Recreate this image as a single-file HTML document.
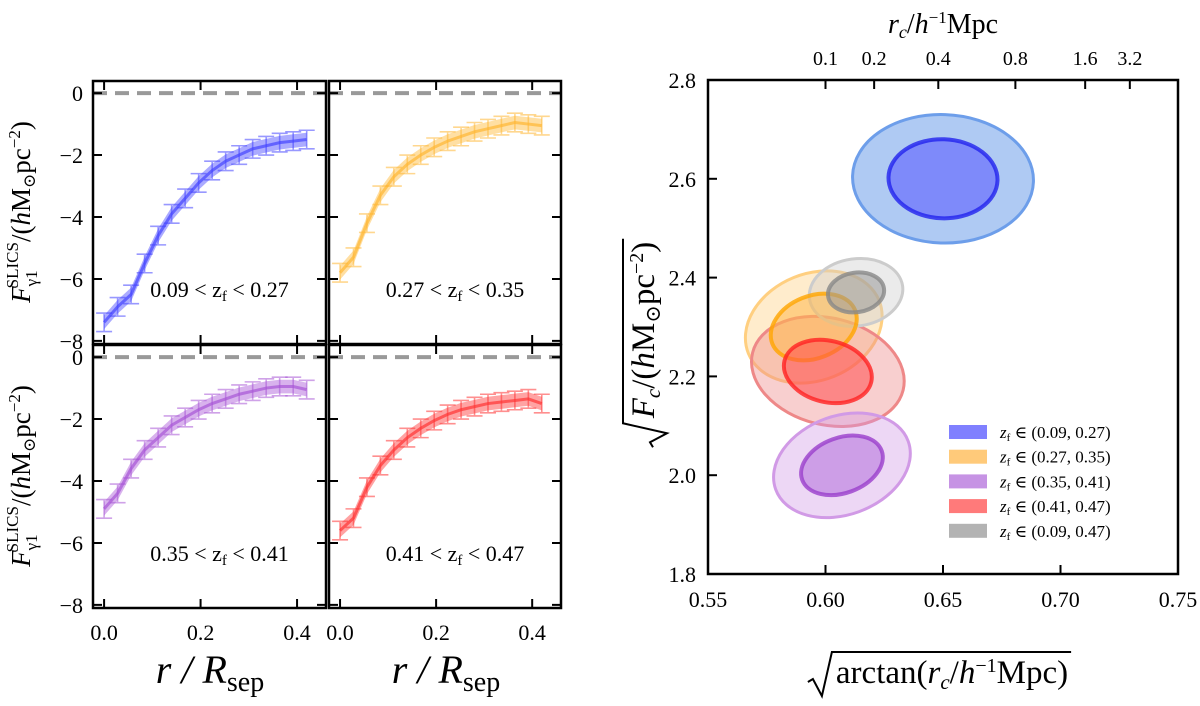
<!DOCTYPE html>
<html><head><meta charset="utf-8"><style>
body{margin:0;background:#fff;}
svg text{font-family:"Liberation Serif","DejaVu Serif",serif;fill:#000;}
</style></head><body>
<svg id="fig" width="1200" height="701" viewBox="0 0 1200 701" xmlns="http://www.w3.org/2000/svg"></svg>
<script>
// ---- Left panels data ----
const rValues=[0,0.028,0.056,0.084,0.112,0.14,0.168,0.196,0.224,0.252,0.28,0.308,0.336,0.364,0.392,0.42];
const blueProfile=[-7.4,-6.9,-6.5,-5.5,-4.6,-3.9,-3.4,-2.9,-2.5,-2.2,-2.0,-1.8,-1.7,-1.6,-1.55,-1.5];
const orangeProfile=[-5.8,-5.3,-4.2,-3.3,-2.7,-2.3,-2.0,-1.75,-1.55,-1.4,-1.25,-1.15,-1.05,-0.95,-1.0,-1.05];
const purpleProfile=[-4.9,-4.4,-3.6,-3.0,-2.6,-2.2,-1.95,-1.7,-1.5,-1.35,-1.2,-1.1,-1.0,-0.95,-0.95,-1.05];
const redProfile=[-5.6,-5.2,-4.2,-3.5,-3.0,-2.6,-2.3,-2.05,-1.85,-1.7,-1.6,-1.5,-1.45,-1.4,-1.35,-1.5];
const panelLabels=["0.09 < z","0.27 < z","0.35 < z","0.41 < z"];
const panelUpper=["0.27","0.35","0.41","0.47"];
const leftYTicks=[0,-2,-4,-6,-8];
const leftXTicks=[0.0,0.2,0.4];
// ---- Right panel data ----
const ellCx=[0.650,0.595,0.607,0.601,0.613];
const ellCy=[2.60,2.30,2.02,2.21,2.37];
const ellInRx=[0.0232,0.019,0.018,0.019,0.012];
const ellInRy=[0.080,0.063,0.056,0.062,0.040];
const ellOutRx=[0.0385,0.030,0.030,0.033,0.020];
const ellOutRy=[0.130,0.108,0.100,0.108,0.068];
const ellAngle=[2,-22,-20,14,-8];
const ellNames=["(0.09, 0.27)","(0.27, 0.35)","(0.35, 0.41)","(0.41, 0.47)","(0.09, 0.47)"];
const rightXTicks=[0.55,0.60,0.65,0.70,0.75];
const rightYTicks=[1.8,2.0,2.2,2.4,2.6,2.8];
const topTickLabels=["0.1","0.2","0.4","0.8","1.6","3.2"];
const topTickPos=[0.600,0.6207,0.648,0.6808,0.7105,0.7295];

const NS="http://www.w3.org/2000/svg";
const svg=document.getElementById('fig');
function mk(tag,attrs,parent){const e=document.createElementNS(NS,tag);for(const k in attrs)e.setAttribute(k,attrs[k]);(parent||svg).appendChild(e);return e;}

const colors=["#4444ff","#ffb733","#a855d6","#ff3333"];
const profiles=[blueProfile,orangeProfile,purpleProfile,redProfile];
const panels=[{l:93,r:326,t:81,b:344},{l:329,r:561,t:81,b:344},{l:93,r:326,t:345,b:608},{l:329,r:561,t:345,b:608}];
panels.forEach((p,i)=>{
  const g=mk('g',{});
  
  
  const x0=-0.023,x1=0.46,y0=-8.1,y1=0.39;
  const X=v=>p.l+(v-x0)/(x1-x0)*(p.r-p.l);
  const Y=v=>p.b-(v-y0)/(y1-y0)*(p.b-p.t);
  const zl=mk('line',{x1:p.l,x2:p.r,y1:Y(0),y2:Y(0),stroke:'#999',"stroke-width":4,"stroke-dasharray":"14,8"},g);
  
  
  const prof=profiles[i],c=colors[i];
  let up="",dn="";
  rValues.forEach((r,k)=>{up+=(k?"L":"M")+X(r)+","+Y(prof[k]+0.22);});
  for(let k=rValues.length-1;k>=0;k--)dn+="L"+X(rValues[k])+","+Y(prof[k]-0.22);
  const band=mk('path',{d:up+dn+"Z",fill:c,"fill-opacity":0.45},g);
  
  
  let d="";rValues.forEach((r,k)=>{d+=(k?"L":"M")+X(r)+","+Y(prof[k]);});
  const ln=mk('path',{d:d,fill:'none',stroke:c,"stroke-width":3,"stroke-opacity":0.7},g);
  
  
  rValues.forEach((r,k)=>{
    const eb=mk('path',{d:`M${X(r)-8},${Y(prof[k]+0.3)}h16M${X(r)-8},${Y(prof[k]-0.3)}h16M${X(r)},${Y(prof[k]+0.3)}V${Y(prof[k]-0.3)}`,stroke:c,"stroke-width":1.6,"stroke-opacity":0.55,fill:'none'},g);
    
    
  });
  const fr=mk('rect',{x:p.l,y:p.t,width:p.r-p.l,height:p.b-p.t,fill:'none',stroke:'#000',"stroke-width":2.5},g);
  
  
  leftYTicks.forEach(v=>{
    mk('path',{d:`M${p.l},${Y(v)}h9M${p.r},${Y(v)}h-9`,stroke:'#000',"stroke-width":2},g);
    if(i%2==0){const t=mk('text',{x:p.l-10,y:Y(v)+8,"text-anchor":'end',"font-size":22},g);t.textContent=v<0?"\u2212"+(-v):v;
      }
  });
  leftXTicks.forEach(v=>{
    mk('path',{d:`M${X(v)},${p.t}v9M${X(v)},${p.b}v-9`,stroke:'#000',"stroke-width":2},g);
    if(i>=2){const t=mk('text',{x:X(v),y:p.b+32,"text-anchor":'middle',"font-size":22},g);t.textContent=v.toFixed(1);
      }
  });
  const lb=mk('text',{x:(p.l+p.r)/2+10,y:p.b-47,"text-anchor":'middle',"font-size":22},g);
  lb.innerHTML=panelLabels[i]+'<tspan font-size="15" dy="4">f</tspan><tspan dy="-4"> &lt; '+panelUpper[i]+'</tspan>';
  
  
});
// left y-axis titles
[212,476].forEach((cy,i)=>{
  const t=mk('text',{x:0,y:0,"text-anchor":'middle',"font-size":27,transform:`translate(30,${cy}) rotate(-90)`});
  t.innerHTML='<tspan font-style="italic">F</tspan><tspan font-size="17" dy="7">γ1</tspan><tspan font-size="17" dy="-19" dx="-18">SLICS</tspan><tspan dy="12">/(</tspan><tspan font-style="italic">h</tspan><tspan>M</tspan><tspan font-size="17" dy="5">⊙</tspan><tspan dy="-5">pc</tspan><tspan font-size="17" dy="-10">−2</tspan><tspan dy="10">)</tspan>';
  
  
});
[210,446].forEach(cx=>{
  const t=mk('text',{x:cx,y:683,"text-anchor":'middle',"font-size":40,"font-style":'italic'});
  t.innerHTML='r / R<tspan font-style="normal" font-size="28" dy="8">sep</tspan>';
  
  
});

// ---- Right panel ----
const RL=708,RR=1178,RT=80,RB=574;
const RX=v=>RL+(v-0.55)/0.2*(RR-RL);
const RY=v=>RB-(v-1.8)/1.0*(RB-RT);
const sx=(RR-RL)/0.2, sy=(RB-RT)/1.0;
const fillIn=["#5555ff","#ffb84d","#b36fdb","#ff4d4d","#999999"];
const fillOut=["#6d9eea","#ffcf80","#d19ae6","#ee8888","#cccccc"];
const strokeIn=["#2222ee","#ffa500","#9a3fcc","#ff2222","#888888"];
const order=[0,1,3,2,4];
const rg=mk('g',{});


order.forEach(i=>{
  const o=mk('ellipse',{cx:RX(ellCx[i]),cy:RY(ellCy[i]),rx:ellOutRx[i]*sx,ry:ellOutRy[i]*sy,fill:fillOut[i],"fill-opacity":i==0?0.55:0.4,stroke:fillOut[i],"stroke-width":3,transform:`rotate(${ellAngle[i]} ${RX(ellCx[i])} ${RY(ellCy[i])})`},rg);
  
  
});
order.forEach(i=>{
  const n=mk('ellipse',{cx:RX(ellCx[i]),cy:RY(ellCy[i]),rx:ellInRx[i]*sx,ry:ellInRy[i]*sy,fill:fillIn[i],"fill-opacity":0.55,stroke:strokeIn[i],"stroke-width":4,"stroke-opacity":0.8,transform:`rotate(${ellAngle[i]} ${RX(ellCx[i])} ${RY(ellCy[i])})`},rg);
  
  
});
const rf=mk('rect',{x:RL,y:RT,width:RR-RL,height:RB-RT,fill:'none',stroke:'#000',"stroke-width":2.5});


rightXTicks.forEach(v=>{
  mk('path',{d:`M${RX(v)},${RB}v-9`,stroke:'#000',"stroke-width":2});
  const t=mk('text',{x:RX(v),y:RB+33,"text-anchor":'middle',"font-size":22});t.textContent=v.toFixed(2);
  
});
rightYTicks.forEach(v=>{
  mk('path',{d:`M${RL},${RY(v)}h9`,stroke:'#000',"stroke-width":2});
  const t=mk('text',{x:RL-12,y:RY(v)+8,"text-anchor":'end',"font-size":22});t.textContent=v.toFixed(1);
  
});
topTickPos.forEach((v,k)=>{
  mk('path',{d:`M${RX(v)},${RT}v9`,stroke:'#000',"stroke-width":2});
  const t=mk('text',{x:RX(v),y:RT-15,"text-anchor":'middle',"font-size":20});t.textContent=topTickLabels[k];
  
});
const tt=mk('text',{x:943,y:33,"text-anchor":'middle',"font-size":28});
tt.innerHTML='<tspan font-style="italic">r</tspan><tspan font-style="italic" font-size="18" dy="5">c</tspan><tspan dy="-5">/</tspan><tspan font-style="italic">h</tspan><tspan font-size="17" dy="-10">−1</tspan><tspan dy="10">Mpc</tspan>';


// bottom title with radical
const bg=mk('g',{transform:'translate(952,683)'});


const bt=mk('text',{x:0,y:0,"text-anchor":'middle',"font-size":33},bg);
bt.innerHTML='arctan(<tspan font-style="italic">r</tspan><tspan font-style="italic" font-size="21" dy="6">c</tspan><tspan dy="-6">/</tspan><tspan font-style="italic">h</tspan><tspan font-size="20" dy="-11">−1</tspan><tspan dy="11">Mpc)</tspan>';
// left title with radical
const lg=mk('g',{transform:'translate(654,330) rotate(-90)'});


const yt=mk('text',{x:0,y:0,"text-anchor":'middle',"font-size":33},lg);
yt.innerHTML='<tspan font-style="italic">F</tspan><tspan font-style="italic" font-size="21" dy="6">c</tspan><tspan dy="-6">/(</tspan><tspan font-style="italic">h</tspan>M<tspan font-size="21" dy="6">⊙</tspan><tspan dy="-6">pc</tspan><tspan font-size="20" dy="-11">−2</tspan><tspan dy="11">)</tspan>';
function radical(g,t){
  const b=t.getBBox();
  const top=b.y-3, bot=b.y+b.height+2, L=b.x-4;
  mk('path',{d:`M${L-24},${bot-14}l5,-3l9,${17}l10,${top-bot}H${b.x+b.width+3}`,stroke:'#000',"stroke-width":2,fill:'none'},g);
}
radical(bg,bt);
radical(lg,yt);
// legend
ellNames.forEach((nm,i)=>{
  const y=432+i*24.7;
  const sw=mk('rect',{x:949,y:y-7,width:38,height:14,fill:fillIn[i],"fill-opacity":0.75});
  
  const t=mk('text',{x:1000,y:y+6,"font-size":17});
  t.innerHTML='<tspan font-style="italic">z</tspan><tspan font-size="11" dy="3">f</tspan><tspan dy="-3"> ∈ '+nm+'</tspan>';
  
});
</script>
</body></html>
